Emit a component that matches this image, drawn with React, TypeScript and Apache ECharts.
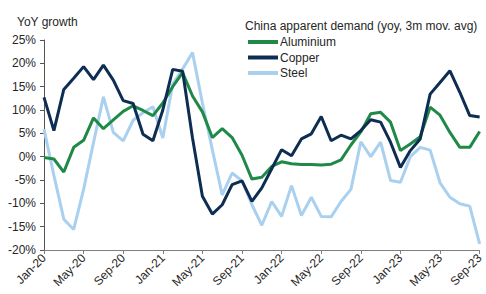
import React, { useEffect, useRef } from "react";
import * as echarts from "echarts";

const months: string[] = [];
const monthNames = ["Jan", "Feb", "Mar", "Apr", "May", "Jun", "Jul", "Aug", "Sep", "Oct", "Nov", "Dec"];
for (let y = 20; y <= 23; y++) {
  for (let m = 0; m < 12; m++) {
    if (y === 23 && m > 8) break;
    months.push(`${monthNames[m]}-${y}`);
  }
}

const aluminium = [
  -0.2, -0.5, -3.3, 2.0, 3.5, 8.3, 6.0, 7.9, 9.7, 10.9, 9.9, 8.8,
  11.5, 15.0, 18.0, 13.0, 9.6, 4.1, 6.0, 4.1, 0.3, -4.8, -4.4, -2.1,
  -1.1, -1.5, -1.7, -1.7, -1.8, -1.6, -0.7, 2.5, 5.3, 9.2, 9.5, 7.4,
  1.3, 2.7, 4.3, 10.6, 8.9, 5.2, 2.0, 2.0, 5.4,
];
const copper = [
  12.7, 5.6, 14.4, 16.8, 19.3, 16.5, 19.6, 16.4, 12.0, 11.4, 4.8, 3.4,
  10.0, 18.7, 18.3, 4.0, -8.5, -12.3, -10.3, -6.0, -5.2, -9.6, -6.7, -2.6,
  1.5, 0.2, 3.8, 4.9, 8.6, 3.4, 4.6, 3.8, 5.6, 7.9, 7.4, 3.1,
  -2.3, 1.3, 3.8, 13.4, 15.9, 18.4, 13.8, 8.8, 8.5,
];
const steel = [
  5.9, -4.0, -13.4, -15.6, -7.0, 3.0, 12.8, 5.2, 3.4, 7.8, 9.4, 10.7,
  4.0, 15.5, 18.8, 22.3, 11.5, 1.5, -8.2, -3.5, -5.2, -10.3, -14.7, -9.6,
  -12.8, -6.2, -12.6, -8.7, -12.8, -12.9, -9.6, -7.0, 3.2, 0.0, 3.1, -5.1,
  -5.5, 0.0, 2.0, 1.4, -5.6, -8.7, -10.1, -10.6, -18.7,
];

const FONT = "'Liberation Sans', Arial, sans-serif";
const TEXT = "#262626";
const GREEN = "#1f8a47";
const NAVY = "#0e2d52";
const LIGHT = "#a9d0ee";

export default function App() {
  const ref = useRef<HTMLDivElement>(null);
  useEffect(() => {
    if (!ref.current) return;
    const chart = echarts.init(ref.current, undefined, { renderer: "svg" });
    chart.setOption({
      animation: false,
      textStyle: { fontFamily: FONT },
      title: [
        {
          text: "YoY growth",
          left: 12,
          top: 11,
          textStyle: { fontSize: 12, fontWeight: "normal", color: TEXT, fontFamily: FONT },
        },
        {
          text: "China apparent demand (yoy, 3m mov. avg)",
          left: 240,
          top: 15,
          textStyle: { fontSize: 12, fontWeight: "normal", color: TEXT, fontFamily: FONT },
        },
      ],
      legend: {
        orient: "vertical",
        left: 248,
        top: 36,
        itemWidth: 30,
        itemHeight: 4,
        itemGap: 3.5,
        icon: "rect",
        padding: 0,
        textStyle: { fontSize: 12, color: TEXT, fontFamily: FONT, padding: [0, 0, 0, -3] },
        data: ["Aluminium", "Copper", "Steel"],
      },
      grid: { left: 44, right: 2, top: 40, bottom: 44, containLabel: false },
      xAxis: [
        {
          type: "category",
          data: months,
          boundaryGap: false,
          position: "bottom",
          axisLine: { show: false },
          axisTick: { show: false },
          axisLabel: {
            interval: 3,
            rotate: 45,
            fontSize: 12,
            color: TEXT,
            fontFamily: FONT,
            margin: 6,
          },
          splitLine: { show: false },
        },
        {
          type: "category",
          data: months,
          boundaryGap: false,
          position: "bottom",
          axisLine: { show: true, onZero: true, lineStyle: { color: "#7f7f7f", width: 1 } },
          axisTick: { show: true, interval: 3, length: 4, lineStyle: { color: "#7f7f7f" } },
          axisLabel: { show: false },
          splitLine: { show: false },
        },
      ],
      yAxis: {
        type: "value",
        min: -20,
        max: 25,
        interval: 5,
        axisLine: { show: true, lineStyle: { color: "#555", width: 1 } },
        axisTick: { show: true, length: 4, lineStyle: { color: "#555" } },
        axisLabel: {
          formatter: "{value}%",
          fontSize: 12,
          color: TEXT,
          fontFamily: FONT,
          margin: 8,
        },
        splitLine: { show: false },
      },
      series: [
        {
          name: "Aluminium",
          type: "line",
          data: aluminium,
          xAxisIndex: 0,
          showSymbol: false,
          lineStyle: { color: GREEN, width: 3 },
          itemStyle: { color: GREEN },
          z: 3,
        },
        {
          name: "Copper",
          type: "line",
          data: copper,
          xAxisIndex: 0,
          showSymbol: false,
          lineStyle: { color: NAVY, width: 3 },
          itemStyle: { color: NAVY },
          z: 4,
        },
        {
          name: "Steel",
          type: "line",
          data: steel,
          xAxisIndex: 0,
          showSymbol: false,
          lineStyle: { color: LIGHT, width: 3 },
          itemStyle: { color: LIGHT },
          z: 2,
        },
      ],
    });
    return () => chart.dispose();
  }, []);
  return (
    <div
      ref={ref}
      style={{ position: "fixed", left: 0, top: 0, width: 486, height: 294, background: "#fff" }}
    />
  );
}
